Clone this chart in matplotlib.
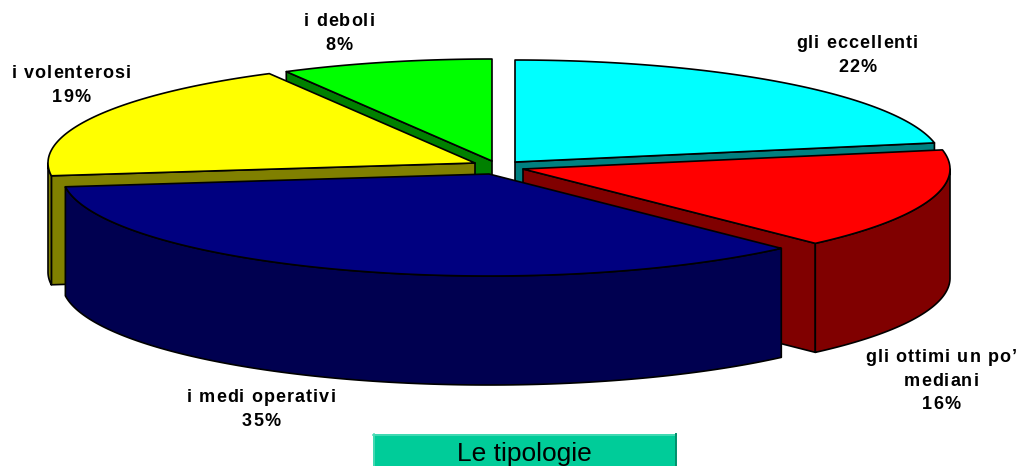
import numpy as np
import matplotlib.pyplot as plt
from matplotlib import font_manager
from matplotlib.patches import Polygon, Rectangle
from matplotlib.text import Text

labels = ["gli eccellenti\n22%", "gli ottimi un po’\nmediani\n16%", "i medi operativi\n35%",
          "i volenterosi\n19%", "i deboli\n8%"]
values = [22, 16, 35, 19, 8]
top_colors = ["#00ffff", "#ff0000", "#000080", "#ffff00", "#00ff00"]
side_colors = ["#008080", "#800000", "#000050", "#808000", "#008000"]

# layout, in pixels of the picture
apex_x = [515, 523, 489, 475, 492]
apex_y = [162, 169, 174, 163, 161]
label_x = [857, 941, 261, 71, 339]
label_y = [48, 362, 402, 78, 26]   # first baseline
rx = 427
ry = 102
depth = 109
draw_order = [4, 0, 3, 1, 2]

fig = plt.figure(figsize=(10.21, 4.66), dpi=100)
ax = fig.add_axes([0, 0, 1, 1])
ax.set_xlim(0, 1021)
ax.set_ylim(466, 0)
ax.axis("off")

edges = np.cumsum([0] + values) / sum(values) * 360


class TrackedText(Text):
    # the labels in the picture are letterspaced, Text can't do that by itself
    tracking = 1.1
    line_gap = 23.5
    ascent = 13

    def draw(self, renderer):
        full = self.get_text()
        x0, y0 = self.get_position()
        font = font_manager.get_font(font_manager.findfont(self.get_fontproperties()))
        font.set_size(self.get_fontsize(), fig.dpi)
        self.set_ha("left")
        self.set_va("baseline")
        for n, line in enumerate(full.split("\n")):
            adv = [font.load_char(ord(c)).linearHoriAdvance / 65536 + self.tracking for c in line]
            x = x0 - (sum(adv) - self.tracking) / 2
            for c, a in zip(line, adv):
                self.set_text(c)
                self.set_position((x, y0 + self.ascent + n * self.line_gap))
                super().draw(renderer)
                x += a
        self.set_text(full)
        self.set_position((x0, y0))
        self.set_ha("center")
        self.set_va("top")


def rim(i, t):
    t = np.radians(t)
    return apex_x[i] + rx * np.sin(t), apex_y[i] - ry * np.cos(t)


def draw(pts, color, z):
    ax.add_patch(Polygon(pts, closed=True, fc=color, ec="black", lw=1.2, zorder=z, joinstyle="round"))


for z, i in enumerate(draw_order):
    t0, t1 = edges[i], edges[i + 1]
    ax_pt = (apex_x[i], apex_y[i])
    # cut faces that look at the viewer
    for t, visible in ((t1, np.sin(np.radians(t1)) > 1e-6), (t0, np.sin(np.radians(t0)) < -1e-6)):
        if visible:
            x, y = rim(i, t)
            draw([ax_pt, (x, y), (x, y + depth), (ax_pt[0], ax_pt[1] + depth)], side_colors[i], z * 3)
    # outer wall, front half only
    a, b = max(t0, 90), min(t1, 270)
    if a < b:
        x, y = rim(i, np.linspace(a, b, 200))
        pts = np.r_[np.c_[x, y], np.c_[x, y + depth][::-1]]
        draw(pts, side_colors[i], z * 3 + 1)
    # top
    x, y = rim(i, np.linspace(t0, t1, 200))
    draw(np.r_[[ax_pt], np.c_[x, y]], top_colors[i], z * 3 + 2)

for i in range(len(labels)):
    t = TrackedText(label_x[i], label_y[i] - TrackedText.ascent, labels[i], fontsize=13, fontweight="bold",
                    family="Liberation Sans", color="black", zorder=30, ha="center", va="top",
                    linespacing=1.1)
    ax.add_artist(t)

# caption box under the pie
ax.add_patch(Rectangle((373, 434), 303, 40, fc="#00cc99", ec="none", zorder=31))
ax.plot([373, 676], [434.5, 434.5], color="#4fdcb8", lw=1.2, zorder=32)
ax.plot([373.5, 373.5], [434, 466], color="#4fdcb8", lw=1.2, zorder=32)
ax.plot([675.5, 675.5], [434, 466], color="#008f6b", lw=1.4, zorder=32)
ax.text(524.5, 461, "Le tipologie", ha="center", va="baseline", fontsize=19,
        family="Liberation Sans", color="black", zorder=33)

fig.savefig("out.png", dpi=100)
